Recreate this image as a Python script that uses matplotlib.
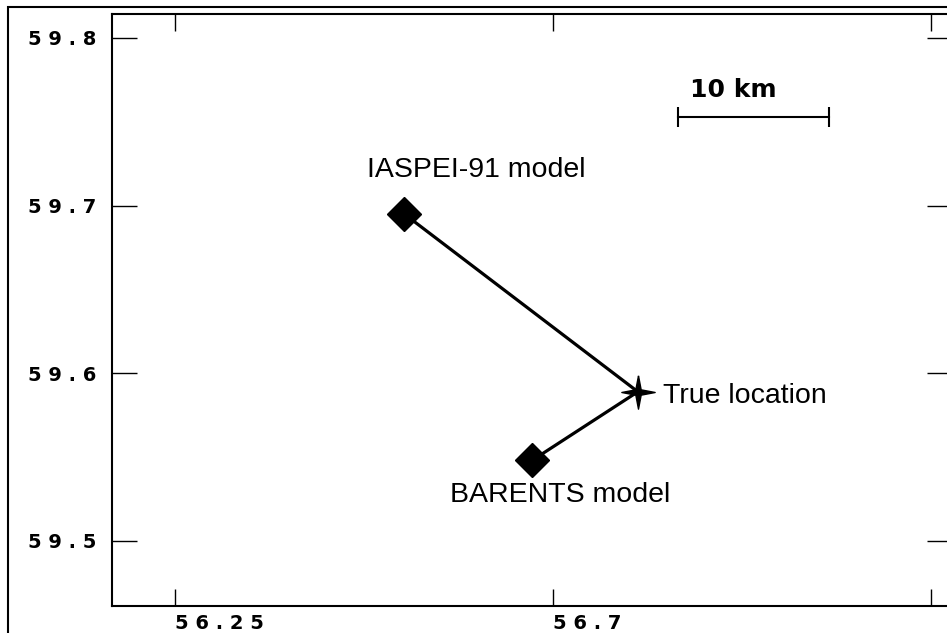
from matplotlib import pyplot as plt
from matplotlib.patches import Rectangle

# 三个震中位置 (经度, 纬度)
names = ['IASPEI-91 model', 'True location', 'BARENTS model']
lon = [56.523, 56.801, 56.675]
lat = [59.695, 59.589, 59.548]

# 坐标轴刻度 (最右边的刻度标签在图外, 不显示)
xticks = [56.25, 56.7, 57.15]
xtick_labels = ['5 6 . 2 5', '5 6 . 7', '']
yticks = [59.5, 59.6, 59.7, 59.8]
ytick_labels = ['5 9 . 5', '5 9 . 6', '5 9 . 7', '5 9 . 8']

# 比例尺 10 km
scale_text = '10 km'
scale_lon = [56.849, 57.029]
scale_lat = [59.753, 59.753]

fig = plt.figure(figsize=(9.47, 6.33), dpi=100)
ax = fig.add_axes([112 / 947, 27 / 633, 840 / 947, 592 / 633])

# 外框
fig.add_artist(Rectangle((8 / 947, -0.1), 1.1, (633 - 7) / 633 + 0.1,
                         transform=fig.transFigure, fill=False,
                         linewidth=1.5, edgecolor='black'))

# 连线
ax.plot(lon, lat, color='black', linewidth=2.3, zorder=2)

# 标记
star = [(0, 1), (0.16, 0.16), (1, 0), (0.16, -0.16), (0, -1),
        (-0.16, -0.16), (-1, 0), (-0.16, 0.16), (0, 1)]
ax.plot(lon[0], lat[0], marker='D', markersize=17, color='black', linestyle='none', zorder=3)
ax.plot(lon[2], lat[2], marker='D', markersize=17, color='black', linestyle='none', zorder=3)
ax.plot(lon[1], lat[1], marker=star, markersize=24, color='black', linestyle='none', zorder=3)

txt_font = {'family': 'Liberation Sans', 'size': 20.5}
ax.annotate(names[0], (lon[0], lat[0]), xytext=(52, 32), textcoords='offset points',
            ha='center', va='center', **txt_font)
ax.annotate(names[1], (lon[1], lat[1]), xytext=(18, -3), textcoords='offset points',
            ha='left', va='center', **txt_font)
ax.annotate(names[2], (lon[2], lat[2]), xytext=(20, -24.5), textcoords='offset points',
            ha='center', va='center', **txt_font)

# 比例尺
ax.plot(scale_lon, scale_lat, color='black', linewidth=1.5, marker='|',
        markersize=15, markeredgewidth=1.5)
ax.annotate(scale_text, (scale_lon[0], scale_lat[0]), xytext=(8.6, 19.4),
            textcoords='offset points', ha='left', va='center',
            fontsize=18, fontweight='bold', family='DejaVu Sans')

ax.set_xlim(56.175, 57.175)
ax.set_ylim(59.4612, 59.8143)

ax.set_xticks(xticks, xtick_labels)
ax.set_yticks(yticks, ytick_labels)
for lab in ax.get_xticklabels():
    lab.set_ha('left')
    lab.set_fontweight('bold')
for lab in ax.get_yticklabels():
    lab.set_fontweight('bold')

ax.tick_params(axis='y', direction='in', length=18, width=1, left=True, right=True,
               pad=11, labelsize=14)
ax.tick_params(axis='x', direction='in', length=12.5, width=1, top=True, bottom=True,
               pad=6, labelsize=14)
for sp in ax.spines.values():
    sp.set_linewidth(1.5)

plt.savefig('out.png', dpi=100)
